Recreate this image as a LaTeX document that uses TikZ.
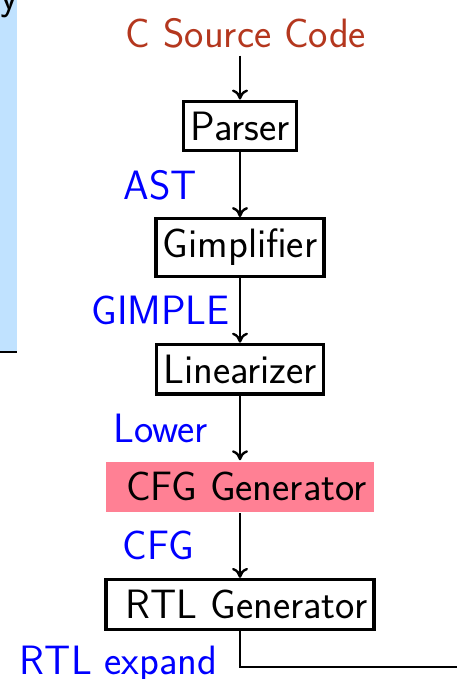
\documentclass[tikz,border=0pt]{standalone}
\usepackage{tikz}
\usetikzlibrary{
  arrows.meta,
  positioning
}
\definecolor{srcred}{RGB}{180,55,30}
\definecolor{cfgpink}{RGB}{255,128,148}
\definecolor{panelblue}{RGB}{192,226,255}

\begin{document}
\begin{tikzpicture}[
  x=0.5pt,
  y=-0.5pt,
  font=\sffamily\fontsize{20.5}{24}\selectfont,
  node distance=32.3pt,
  stage/.style={
    draw,
    line width=1.7pt,
    inner xsep=3.4pt,
    inner ysep=5.2pt
  },
  hilite/.style={
    fill=cfgpink,
    line width=1.7pt,
    inner xsep=3.4pt,
    inner ysep=5.2pt
  },
  lbl/.style={
    text=blue,
    inner sep=0pt
  },
  arrow/.style={
    -{To[length=5pt,width=8pt]},
    line width=1.2pt
  }
]

\useasboundingbox (0,0) rectangle (456,679);

% side panel cut off at the left
\fill[panelblue] (0,0) rectangle (17,352);
\draw[line width=1.1pt] (0,352) -- (17,352);
\node[anchor=base east,inner sep=0pt] (cut) at (19,10) {y};

\node[stage] (parser) at (240,126) {Parser};
\node[text=srcred,above=22pt of parser,xshift=3pt] (src) {C Source Code};
\node[stage,below=of parser] (gimpl) {Gimplifier};
\node[stage,below=of gimpl] (linear) {Linearizer};
\node[hilite,below=of linear] (cfggen) {~CFG Generator};
\node[stage,below=of cfggen] (rtlgen) {~RTL Generator};

\coordinate (exit) at (470,667);

\draw[arrow] (src.south -| parser) -- (parser);
\draw[arrow] (parser) -- node[lbl,left=21pt] (ast) {AST} (gimpl);
\draw[arrow] (gimpl) -- node[lbl,left=4.5pt] (gimple) {GIMPLE} (linear);
\draw[arrow] (linear) -- node[lbl,left=15.5pt] (lower) {Lower} (cfggen);
\draw[arrow] (cfggen) -- node[lbl,left=22.5pt] (cfg) {CFG} (rtlgen);
\draw[line width=1.2pt] (rtlgen) |- (exit);

\node[lbl,anchor=base east] (rtlexp) at (218,674) {RTL expand};

\end{tikzpicture}
\end{document}
